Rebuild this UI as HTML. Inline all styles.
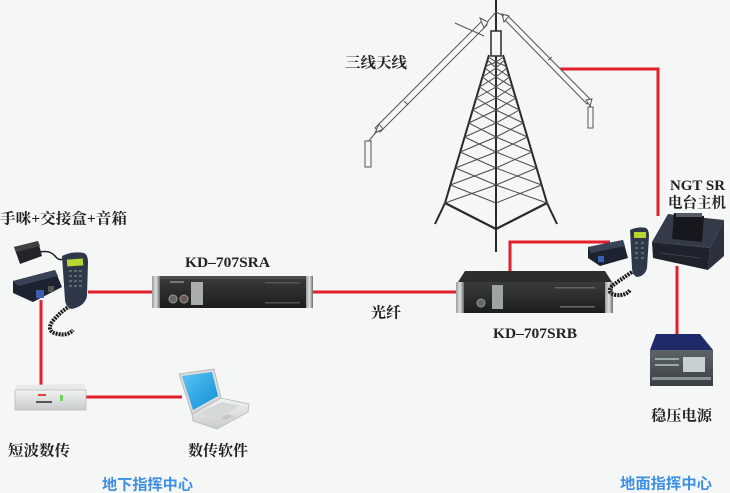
<!DOCTYPE html>
<html><head><meta charset="utf-8">
<style>
html,body{margin:0;padding:0;background:#f5f6f6;}
svg{display:block;}
.lb{font-family:"Liberation Serif","Noto Serif CJK SC",serif;font-weight:bold;fill:#222;font-size:15px;}
.bl{font-family:"Liberation Sans","Noto Sans CJK SC",sans-serif;font-weight:bold;fill:#3d8fe4;font-size:15px;}
</style></head>
<body>
<svg width="730" height="493" viewBox="0 0 730 493" xmlns="http://www.w3.org/2000/svg">
<defs>
<linearGradient id="rack" x1="0" y1="0" x2="0" y2="1">
<stop offset="0" stop-color="#3a3c3c"/><stop offset="1" stop-color="#1c1e1e"/></linearGradient>
<linearGradient id="ear" x1="0" y1="0" x2="1" y2="0">
<stop offset="0" stop-color="#9a9c9c"/><stop offset="0.5" stop-color="#e0e2e2"/><stop offset="1" stop-color="#6a6c6c"/></linearGradient>
<linearGradient id="scr" x1="0" y1="0" x2="1" y2="1">
<stop offset="0" stop-color="#5cc4f2"/><stop offset="1" stop-color="#0f8fd8"/></linearGradient>
<linearGradient id="silver" x1="0" y1="0" x2="0" y2="1">
<stop offset="0" stop-color="#f2f3f3"/><stop offset="1" stop-color="#c8cbcc"/></linearGradient>
<linearGradient id="psu" x1="0" y1="0" x2="0" y2="1">
<stop offset="0" stop-color="#5d6468"/><stop offset="1" stop-color="#3a4044"/></linearGradient>
</defs>
<rect width="730" height="493" fill="#f5f6f6"/>

<!-- red connectors -->
<g stroke="#e41e2a" stroke-width="3" fill="none">
<path d="M88 292 H155"/>
<path d="M41 300 V389"/>
<path d="M86 397 H182"/>
<path d="M312 292 H458"/>
<path d="M510 274 V242 H610"/>
<path d="M559 69 H658 V216"/>
<path d="M677 266 V336"/>
</g>

<!-- tower -->
<g stroke="#2a2a2a" fill="none">
<line x1="496" y1="0" x2="496" y2="252" stroke-width="2"/>
<rect x="491" y="31" width="10" height="25" stroke-width="1.5" fill="#f5f6f6"/>
<polyline points="489,55 445,203 435,224" stroke-width="2"/>
<polyline points="503,55 547,203 557,224" stroke-width="2"/>
<polyline points="445,203 496,229 547,203" stroke-width="2.2"/>
</g>
<g stroke="#4a4a4a" stroke-width="1" fill="none">
<polyline points="488.5,57 496,62 505.6,66"/>
<polyline points="503.5,57 496,62 486.4,66"/>
<polyline points="487.5,60 496,68 509.5,77"/>
<polyline points="485.1,68 496,77 512.5,87"/>
<polyline points="482.5,77 496,87 515.8,98"/>
<polyline points="479.5,87 496,98 519.4,110"/>
<polyline points="476.2,98 496,110 523.2,123"/>
<polyline points="472.6,110 496,123 527.4,137"/>
<polyline points="468.8,123 496,137 531.8,152"/>
<polyline points="464.6,137 496,152 536.6,168"/>
<polyline points="460.2,152 496,168 541.6,185"/>
<polyline points="455.4,168 496,185 547,203"/>
<polyline points="450.4,185 496,203"/>
<polyline points="504.5,60 496,68 482.5,77"/>
<polyline points="506.9,68 496,77 479.5,87"/>
<polyline points="509.5,77 496,87 476.2,98"/>
<polyline points="512.5,87 496,98 472.6,110"/>
<polyline points="515.8,98 496,110 468.8,123"/>
<polyline points="519.4,110 496,123 464.6,137"/>
<polyline points="523.2,123 496,137 460.2,152"/>
<polyline points="527.4,137 496,152 455.4,168"/>
<polyline points="531.8,152 496,168 450.4,185"/>
<polyline points="536.6,168 496,185 445,203"/>
<polyline points="541.6,185 496,203"/>
</g>

<!-- antennas -->
<g stroke="#555" stroke-width="1" fill="#f7f7f7">
<polygon points="483,20 487,25 380,132 375,128"/>
<polygon points="379,124 383,129 375,133"/>
<polygon points="480,18 488,22 484,28"/>
<line x1="404" y1="101" x2="408" y2="105"/>
<line x1="455" y1="23" x2="484" y2="36"/>
<line x1="377" y1="131" x2="368" y2="142"/>
<rect x="365" y="141" width="6" height="26"/>
<line x1="488" y1="21" x2="496" y2="12"/>
<polygon points="503,18 507,15 591,100 587,104"/>
<polygon points="502,14 509,16 504,22"/>
<polygon points="586,100 592,99 590,106"/>
<line x1="548" y1="60" x2="552" y2="57"/>
<line x1="590" y1="105" x2="591" y2="108"/>
<rect x="588" y="107" width="5" height="21"/>
<line x1="504" y1="16" x2="496" y2="12"/>
</g>

<!-- rack A -->
<g>
<rect x="157" y="276" width="152" height="32" fill="url(#rack)"/>
<rect x="157" y="276" width="152" height="3" fill="#4c4e4e"/>
<rect x="152" y="276" width="8" height="32" fill="url(#ear)"/>
<rect x="306" y="276" width="7" height="32" fill="url(#ear)"/>
<circle cx="173" cy="299" r="4" fill="#666" stroke="#999" stroke-width="1"/>
<circle cx="184" cy="299" r="4" fill="#6b5555" stroke="#999" stroke-width="1"/>
<rect x="191" y="282" width="12" height="23" fill="#a9adad"/>
<rect x="170" y="281" width="14" height="2" fill="#777"/>
<rect x="265" y="282" width="35" height="1.5" fill="#555"/>
<rect x="265" y="302" width="35" height="1.5" fill="#555"/>
</g>

<!-- rack B -->
<g>
<polygon points="465,271 605,271 612,282 458,282" fill="#2c2e2e"/>
<rect x="458" y="282" width="154" height="31" fill="url(#rack)"/>
<rect x="456" y="282" width="8" height="31" fill="url(#ear)"/>
<rect x="605" y="282" width="8" height="31" fill="url(#ear)"/>
<circle cx="481" cy="303" r="4" fill="#666" stroke="#999" stroke-width="1"/>
<rect x="492" y="285" width="11" height="24" fill="#9ea3a3"/>
<rect x="555" y="287" width="40" height="1.5" fill="#666"/>
<rect x="560" y="306" width="35" height="1.5" fill="#666"/>
</g>

<!-- left phone / junction / speaker -->
<g>
<polygon points="14,247 38,241 42,256 20,264" fill="#232528"/>
<polygon points="14,247 38,241 40,246 16,252" fill="#3e4044"/>
<path d="M40 252 Q50 250 55 256 Q60 262 64 258" stroke="#222" stroke-width="1.5" fill="none"/>
<polygon points="13,281 55,270 62,287 33,302 13,293" fill="#1d2230"/>
<polygon points="13,281 55,270 58,276 18,286" fill="#3a4256"/>
<rect x="36" y="290" width="8" height="8" fill="#3d5fb0"/>
<rect x="48" y="286" width="6" height="6" fill="#555"/>
<path d="M70 306 Q60 312 52 322 Q46 332 58 334 Q68 336 73 330" stroke="#1a1a1a" stroke-width="4" fill="none" stroke-dasharray="2 1"/>
<path d="M62 256 Q72 251 84 253 Q88 255 88 262 L87 296 Q85 306 72 309 Q66 308 65 300 Z" fill="#2e3848"/>
<rect x="67" y="259" width="16" height="7" fill="#b8d630" transform="rotate(-4 75 262)"/>
<g fill="#5a6c6a">
<rect x="69" y="270" width="3" height="2"/><rect x="74" y="270" width="3" height="2"/><rect x="79" y="270" width="3" height="2"/>
<rect x="69" y="275" width="3" height="2"/><rect x="74" y="275" width="3" height="2"/><rect x="79" y="275" width="3" height="2"/>
<rect x="69" y="280" width="3" height="2"/><rect x="74" y="280" width="3" height="2"/><rect x="79" y="280" width="3" height="2"/>
<rect x="69" y="285" width="3" height="2"/><rect x="74" y="285" width="3" height="2"/><rect x="79" y="285" width="3" height="2"/>
</g>
</g>

<!-- short-wave data box -->
<g>
<polygon points="17,385 84,384 86,390 15,390" fill="#e8eaea"/>
<rect x="15" y="390" width="71" height="20" fill="url(#silver)" stroke="#b5b8b8" stroke-width="0.7"/>
<rect x="38" y="394" width="8" height="2" fill="#e04040"/>
<rect x="36" y="401" width="16" height="2" fill="#555"/>
<rect x="60" y="395" width="3" height="6" fill="#6fcf5a"/>
</g>

<!-- laptop -->
<g>
<polygon points="179,374 214,369 221,398 192,414" fill="#d8dadb" stroke="#b0b3b4" stroke-width="0.8"/>
<polygon points="182,376 212,372 218,396 193,410" fill="url(#scr)"/>
<polygon points="192,414 221,398 249,404 248,412 217,429 193,421" fill="url(#silver)" stroke="#b5b8b9" stroke-width="0.8"/>
<polygon points="200,413 222,402 240,406 218,418" fill="#d5d8d9"/>
<polygon points="220,418 228,414 234,416 226,420" fill="#c4c7c8"/>
</g>

<!-- right radio group -->
<g>
<polygon points="668,214 724,220 710,248 652,242" fill="#353a48"/>
<polygon points="652,242 710,248 708,270 653,258" fill="#1e222c"/>
<polygon points="710,248 724,220 724,256 708,270" fill="#2b303c"/>
<polygon points="674,213 704,216 702,242 672,239" fill="#16181e"/>
<rect x="676" y="213" width="26" height="4" fill="#555a66"/>
<line x1="660" y1="253" x2="700" y2="258" stroke="#3c4250" stroke-width="1"/>
<polygon points="588,247 623,240 628,258 600,266 588,258" fill="#1d2230"/>
<polygon points="588,247 623,240 625,246 591,253" fill="#3a4256"/>
<rect x="598" y="256" width="6" height="6" fill="#3d5fb0"/>
<path d="M632 272 Q620 280 612 286 Q606 293 616 295 Q626 296 630 290" stroke="#1a1a1a" stroke-width="4" fill="none" stroke-dasharray="2 1"/>
<path d="M630 230 Q638 226 646 228 Q649 230 649 236 L647 268 Q645 276 637 277 Q632 275 632 268 Z" fill="#2e3848"/>
<rect x="634" y="232" width="12" height="6" fill="#b8d630"/>
<g fill="#5a6c6a">
<rect x="635" y="242" width="3" height="2"/><rect x="641" y="242" width="3" height="2"/>
<rect x="635" y="247" width="3" height="2"/><rect x="641" y="247" width="3" height="2"/>
<rect x="635" y="252" width="3" height="2"/><rect x="641" y="252" width="3" height="2"/>
<rect x="635" y="257" width="3" height="2"/><rect x="641" y="257" width="3" height="2"/>
</g>
</g>

<!-- power supply -->
<g>
<polygon points="656,334 700,334 713,350 650,350" fill="#1e2a6a"/>
<rect x="650" y="350" width="63" height="36" fill="url(#psu)"/>
<rect x="683" y="357" width="22" height="15" fill="#c9d0d4"/>
<rect x="655" y="358" width="24" height="2" fill="#9aa"/>
<rect x="655" y="364" width="24" height="2" fill="#9aa"/>
<rect x="652" y="377" width="59" height="3" fill="#8a9296"/>
</g>

<!-- labels -->
<text class="lb" x="0" y="223.5" textLength="127" lengthAdjust="spacingAndGlyphs">手咪+交接盒+音箱</text>
<text class="lb" x="185" y="267" textLength="85" lengthAdjust="spacingAndGlyphs">KD–707SRA</text>
<text class="lb" x="345" y="67.7" textLength="62" lengthAdjust="spacingAndGlyphs">三线天线</text>
<text class="lb" x="371" y="317.7" textLength="30" lengthAdjust="spacingAndGlyphs">光纤</text>
<text class="lb" x="493" y="338" textLength="84" lengthAdjust="spacingAndGlyphs">KD–707SRB</text>
<text class="lb" x="670" y="190" textLength="55" lengthAdjust="spacingAndGlyphs">NGT SR</text>
<text class="lb" x="668" y="207.7" textLength="58" lengthAdjust="spacingAndGlyphs">电台主机</text>
<text class="lb" x="651" y="420.7" textLength="61" lengthAdjust="spacingAndGlyphs">稳压电源</text>
<text class="lb" x="8" y="455.7" textLength="62" lengthAdjust="spacingAndGlyphs">短波数传</text>
<text class="lb" x="188" y="455.7" textLength="60" lengthAdjust="spacingAndGlyphs">数传软件</text>
<text class="bl" x="102" y="489.5" textLength="91" lengthAdjust="spacingAndGlyphs">地下指挥中心</text>
<text class="bl" x="620" y="488.5" textLength="92" lengthAdjust="spacingAndGlyphs">地面指挥中心</text>
</svg>
</body></html>
